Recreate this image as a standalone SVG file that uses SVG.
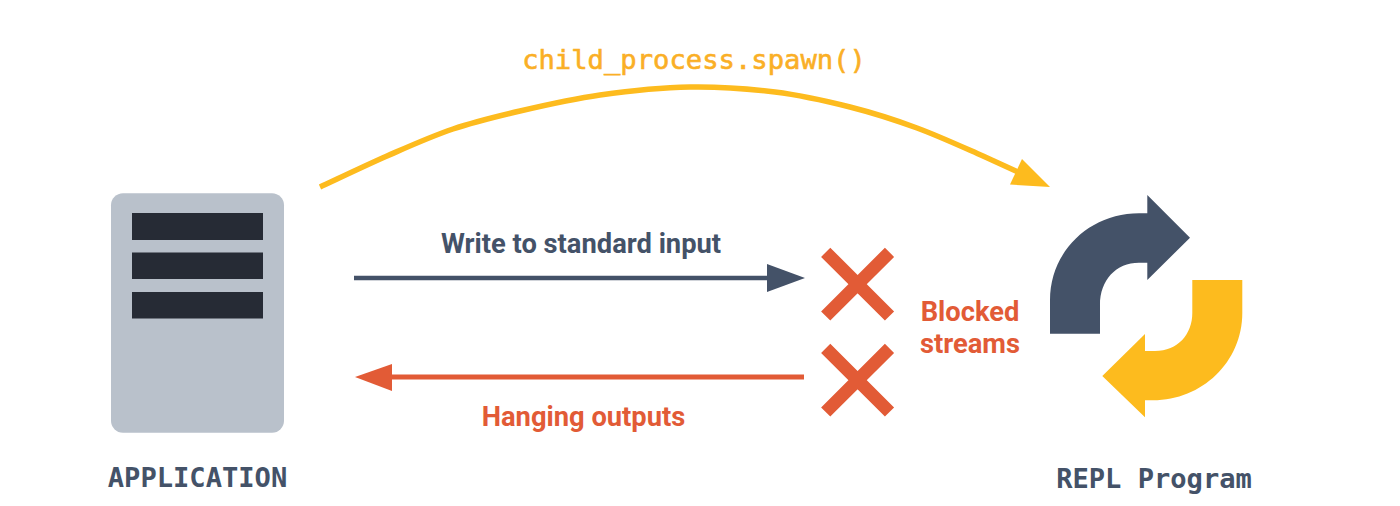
<svg xmlns="http://www.w3.org/2000/svg" width="1400" height="506" viewBox="0 0 1400 506">
<style>
.mono{font-family:"DejaVu Sans Mono","Liberation Mono",monospace;font-size:27.1px;font-weight:700}
.code{font-family:"DejaVu Sans Mono","Liberation Mono",monospace;font-size:27.2px;font-weight:400;fill:#FAAF26;stroke:#FAAF26;stroke-width:.6}
.lab{font-family:Roboto,"Liberation Sans",sans-serif;font-size:27.3px;font-weight:700}
.navy{fill:#445268}.yel{fill:#FDBB1E}.org{fill:#E25B36}
.bar{fill:#262B35}
.x{stroke:#E25B36;stroke-width:13;fill:none}
</style>
<rect width="1400" height="506" fill="#fff"/>
<g id="application">
<rect x="111" y="193.3" width="173" height="239.4" rx="12" fill="#B9C1CB"/>
<rect class="bar" x="132" y="213" width="131" height="27"/>
<rect class="bar" x="132" y="252.5" width="131" height="26.5"/>
<rect class="bar" x="132" y="292" width="131" height="26.5"/>
<text class="mono navy" x="197.5" y="487" text-anchor="middle">APPLICATION</text>
</g>
<g id="repl-program">
<path class="navy" d="M1050 333.7V300C1050 251 1090 213.3 1139 213.3H1147.3V195L1190 237.7L1147.3 280V262.7H1139C1116 262.7 1100 280 1100 305V333.7Z"/>
<path class="yel" d="M1242.3 280V313C1242.3 362 1202 400.3 1153 400.3H1145V417.3L1102.3 376L1145 334V351H1155C1178 351 1192.3 334 1192.3 313V280Z"/>
<text class="mono navy" x="1154" y="488" text-anchor="middle">REPL Program</text>
</g>
<g id="blocked">
<path class="x" d="M825.7 252.3L889.5 316M889.5 252.3L825.7 316"/>
<path class="x" d="M825.7 348.3L889.5 412M889.5 348.3L825.7 412"/>
<text class="lab org" x="970" y="320.600" text-anchor="middle">Blocked</text>
<text class="lab org" x="970" y="352.600" text-anchor="middle">streams</text>
</g>
<g id="connectors">
<path d="M320 187C331 182 364.800 165.700 387 156C409.200 146.300 430.800 136.500 453 129C475.200 121.500 495.500 116.700 520 111C544.500 105.300 571.700 99 600 95C628.300 91 660.800 87.500 690 87C719.200 86.500 748.300 88.700 775 92C801.700 95.300 826.300 101 850 107C873.700 113 894.800 119.800 917 128C939.200 136.200 965.800 148.500 983 156L1020 173" fill="none" stroke="#FDBB1E" stroke-width="5.5"/>
<path class="yel" d="M1050 187L1022 159L1010 184.500Z"/>
<path d="M354 278H770" stroke="#445268" stroke-width="4.5" fill="none"/>
<path class="navy" d="M805 278L767 264V292Z"/>
<path d="M804 377H390" stroke="#E25B36" stroke-width="5" fill="none"/>
<path class="org" d="M355 377L392 364V391Z"/>
</g>
<g id="labels">
<text class="code" x="694" y="69" text-anchor="middle">child_process.spawn()</text>
<text class="lab navy" x="581" y="252.600" text-anchor="middle">Write to standard input</text>
<text class="lab org" x="583.5" y="425.600" text-anchor="middle">Hanging outputs</text>
</g>
</svg>
